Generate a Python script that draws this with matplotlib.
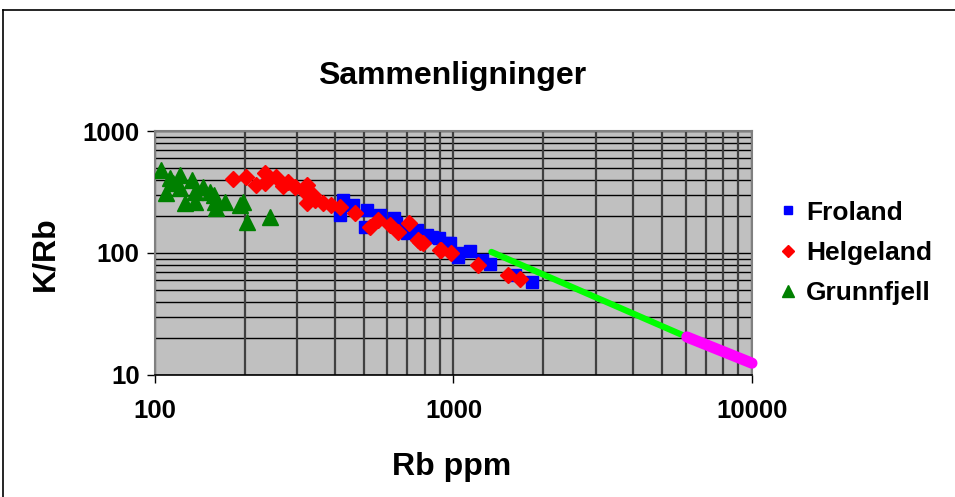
import numpy as np
import matplotlib
matplotlib.use("Agg")
import matplotlib.pyplot as plt
from matplotlib.lines import Line2D
from matplotlib.ticker import LogLocator, NullFormatter, FixedLocator, FixedFormatter

plt.rcParams['font.family'] = ['Liberation Sans', 'DejaVu Sans']
plt.rcParams['font.weight'] = 'bold'

# Froland (blue squares)
froland_rb = [417, 428, 462, 505, 512, 568, 630, 644, 688, 697, 755, 814,
              848, 891, 950, 975, 1039, 1039, 1135, 1248, 1328, 1606, 1834]
froland_krb = [205, 272, 247, 164, 225, 205, 192, 175, 154, 145, 154, 141,
               136, 132, 120, 120, 99.5, 93, 103, 88, 82, 66, 58]

# Helgeland (red diamonds)
helgeland_rb = [182, 202, 218, 234, 234, 254, 269, 279, 294, 314, 322, 322,
                339, 343, 366, 390, 417, 467, 525, 560, 613, 654, 707, 762,
                771, 792, 900, 910, 982, 1208, 1523, 1666]
helgeland_krb = [402, 417, 361, 455, 373, 422, 354, 384, 349, 328, 361, 255,
                 299, 272, 255, 247, 237, 214, 164, 186, 170, 150, 175, 128,
                 124, 120, 106, 106, 99.5, 80, 66, 61]

# Grunnfjell (green triangles)
grunnfjell_rb = [104.5, 108.9, 112, 115.2, 121.3, 121.3, 126, 132.7, 136, 136,
                 144.5, 153, 157.6, 160, 159, 171.7, 192.6, 197, 203, 243]
grunnfjell_krb = [479, 309, 412, 373, 436, 341, 257, 397, 318, 263,
                  349, 318, 299, 234, 263, 263, 247, 263, 181, 199]

# trend lines
green_rb = [1340, 6050]
green_krb = [102, 20.5]
magenta_rb = [6050, 10000]
magenta_krb = [20.5, 12.5]

fig = plt.figure(figsize=(9.55, 4.97), dpi=100)
ax = fig.add_axes([0.1623, 0.2455, 0.6251, 0.4909])
ax.set_facecolor('#c0c0c0')
ax.set_xscale('log')
ax.set_yscale('log')
ax.set_xlim(100, 10000)
ax.set_ylim(10, 1000)

# grid lines at every 1..9 of each decade
xs = [m * 10 ** d for d in (2, 3) for m in range(1, 10)] + [10000]
ys = [m * 10 ** d for d in (1, 2) for m in range(1, 10)] + [1000]
for v in ys:
    ax.axhline(v, color='black', lw=1.0, zorder=1)
for v in xs:
    ax.axvline(v, color='#404040', lw=1.6, zorder=1)

ax.plot(froland_rb, froland_krb, 's', color='#0000ff', ms=8.5, mec='#0000ff',
        zorder=3, label='Froland')
ax.plot(helgeland_rb, helgeland_krb, 'D', color='#ff0000', ms=8.5, mec='#ff0000',
        zorder=4, label='Helgeland')
ax.plot(grunnfjell_rb, grunnfjell_krb, '^', color='#008000', ms=11.5, mec='#008000',
        zorder=5, label='Grunnfjell')
ax.plot(green_rb, green_krb, '-', color='#00ff00', lw=4.5, solid_capstyle='round',
        zorder=6)
ax.plot(magenta_rb, magenta_krb, '-', color='#ff00ff', lw=8, solid_capstyle='round',
        zorder=7, clip_on=False)

ax.xaxis.set_major_locator(FixedLocator([100, 1000, 10000]))
ax.xaxis.set_major_formatter(FixedFormatter(['100', '1000', '10000']))
ax.yaxis.set_major_locator(FixedLocator([10, 100, 1000]))
ax.yaxis.set_major_formatter(FixedFormatter(['10', '100', '1000']))
ax.xaxis.set_minor_locator(LogLocator(subs=[]))
ax.yaxis.set_minor_locator(LogLocator(subs=[]))
ax.xaxis.set_minor_formatter(NullFormatter())
ax.yaxis.set_minor_formatter(NullFormatter())
ax.tick_params(axis='x', direction='out', length=6, width=1, pad=11, labelsize=18.5)
ax.tick_params(axis='y', direction='out', length=6, width=1, pad=5, labelsize=18.5)
for lab in ax.get_xticklabels() + ax.get_yticklabels():
    lab.set_fontweight('bold')

for s in ('top', 'right', 'left'):
    ax.spines[s].set_color('#808080')
    ax.spines[s].set_linewidth(1.5)
ax.spines['bottom'].set_color('black')
ax.spines['bottom'].set_linewidth(1.2)

leg = ax.legend(loc='center left', bbox_to_anchor=(1.0, 0.5), frameon=False,
                prop={'weight': 'bold', 'size': 19}, handlelength=0.5,
                handletextpad=0.45, labelspacing=0.62, markerscale=0.7,
                borderaxespad=0.7)

fig.text(0.473, 0.847, 'Sammenligninger', ha='center', va='center',
         fontsize=23, fontweight='bold')
fig.text(0.473, 0.06, 'Rb ppm', ha='center', va='center',
         fontsize=23, fontweight='bold')
fig.text(0.047, 0.49, 'K/Rb', ha='center', va='center', rotation=90,
         fontsize=23, fontweight='bold')

# chart border (cropped at right and bottom)
fig.add_artist(Line2D([3 / 955, 3 / 955], [0, 1 - 10 / 497], color='black', lw=1.2))
fig.add_artist(Line2D([3 / 955, 1], [1 - 10 / 497, 1 - 10 / 497], color='black', lw=1.2))

fig.savefig('out.png', dpi=100)
